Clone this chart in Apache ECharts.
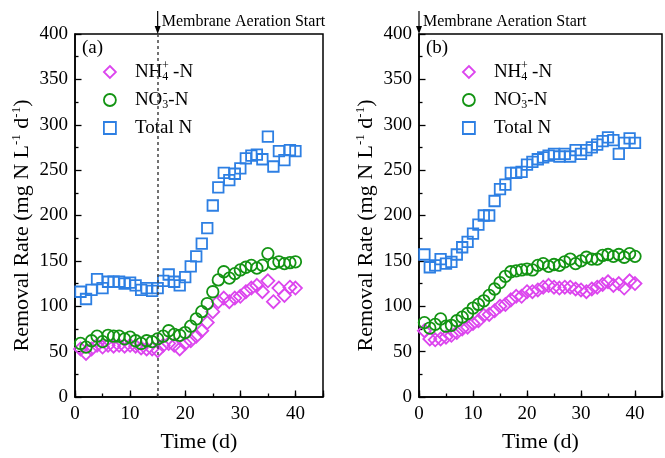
<!DOCTYPE html>
<html><head><meta charset="utf-8">
<script src="https://cdn.jsdelivr.net/npm/echarts@6/dist/echarts.min.js"></script>
<style>html,body{margin:0;padding:0;background:#fff}#c{width:665px;height:458px}</style>
</head><body><div id="c"></div>
<script>
// ---- data ----
const days = [1,2,3,4,5,6,7,8,9,10,11,12,13,14,15,16,17,18,19,20,21,22,23,24,25,26,27,28,29,30,31,32,33,34,35,36,37,38,39,40];
const nh4A = [53,48,53,57,55,57,56,57,56,57,56,54,53,53,51,57,59,57,53,59,62,67,73,82,94,105,109,105,109,111,116,120,123,116,128,105,120,112,121,120];
const no3A = [59,55,62,67,61,68,67,67,64,66,62,59,62,61,64,67,73,69,68,71,78,86,94,103,116,129,138,131,136,140,143,145,142,145,158,147,149,147,148,149];
const tnA  = [116,108,118,130,120,127,127,127,125,126,123,118,120,117,120,128,135,127,123,132,144,155,169,186,211,231,247,239,246,252,263,266,267,262,287,254,271,261,272,271];
const nh4B = [73,64,63,64,66,68,71,75,77,81,84,90,91,95,100,102,107,111,111,116,116,118,121,123,121,120,121,121,119,118,116,119,121,124,127,123,125,120,128,125];
const no3B = [82,76,80,86,78,79,84,88,92,98,102,106,112,119,126,133,138,139,140,141,140,145,147,144,146,145,149,152,147,150,154,152,152,156,157,155,157,154,158,155];
const tnB  = [157,143,145,152,147,149,157,165,171,180,190,200,200,216,229,234,247,247,248,256,259,262,264,266,268,265,268,265,272,268,272,275,278,282,286,283,268,280,285,280];
const xTicks = [0,10,20,30,40];
const aerationDayA = 15, aerationDayB = 0;
const panelLabels = ['(a)','(b)'];
const annotText = 'Membrane Aeration Start';

const FONT = '"Liberation Serif", "Times New Roman", serif';
const MAG = '#dc45ee', GRN = '#139413', BLU = '#2d7fe3';

function pts(ys){ return days.map((d,i)=>[d, ys[i]]); }

const grids = [
  {left:75, top:34, width:248, height:370},
  {left:419, top:34, width:247, height:370}
];
function xMain(g){ return {
  type:'value', gridIndex:g, min:0, max:45, interval:5, position:'bottom',
  axisLine:{show:true, lineStyle:{color:'#000', width:1.5}},
  axisTick:{show:true, inside:true, length:3.5, lineStyle:{color:'#000', width:1.3}},
  axisLabel:{fontFamily:FONT, fontSize:19, color:'#000', margin:8,
    formatter:v => xTicks.indexOf(v) >= 0 ? String(v) : ''},
  splitLine:{show:false},
  name:'Time (d)', nameLocation:'middle', nameGap:34,
  nameTextStyle:{fontFamily:FONT, fontSize:22, color:'#000'}
};}
function xMajor(g){ return {
  type:'value', gridIndex:g, min:0, max:45, interval:10, position:'bottom',
  axisLine:{show:false}, axisLabel:{show:false}, splitLine:{show:false},
  axisTick:{show:true, inside:true, length:6.5, lineStyle:{color:'#000', width:1.3}}
};}
function yAx(g){ return {
  type:'value', gridIndex:g, min:0, max:400, interval:50,
  axisLine:{show:true, lineStyle:{color:'#000', width:1.5}},
  axisTick:{show:true, inside:true, length:6.5, lineStyle:{color:'#000', width:1.3}},
  minorTick:{show:true, splitNumber:2, length:3.5, lineStyle:{color:'#000', width:1.3}},
  axisLabel:{fontFamily:FONT, fontSize:19, color:'#000', margin:7},
  splitLine:{show:false}, minorSplitLine:{show:false},
  name:'Removal Rate (mg N L{sp|-1} d{sp|-1})', nameLocation:'middle', nameGap:37,
  nameTextStyle:{fontFamily:FONT, fontSize:22, color:'#000', lineHeight:26, padding:[0,20,0,0],
    rich:{sp:{fontFamily:FONT, fontSize:13, lineHeight:13, verticalAlign:'top', color:'#000'}}}
};}

function sc(name, data, xi, yi, sym, size, col, extra){
  return Object.assign({
    type:'scatter', name:name, xAxisIndex:xi, yAxisIndex:yi, data:data,
    symbol:sym, symbolSize:size,
    itemStyle:{color:'rgba(0,0,0,0)', borderColor:col, borderWidth:1.8, opacity:1},
    emphasis:{disabled:true}, animation:false
  }, extra||{});
}
const legendData = [
  {name:'NH4', icon:'diamond', itemStyle:{color:'rgba(0,0,0,0)', borderColor:MAG, borderWidth:1.8}},
  {name:'NO3', icon:'circle', itemStyle:{color:'rgba(0,0,0,0)', borderColor:GRN, borderWidth:1.8}},
  {name:'TN', icon:'rect', itemStyle:{color:'rgba(0,0,0,0)', borderColor:BLU, borderWidth:1.8}}
];
function legendFor(left){ return {
  data:legendData, orient:'vertical', left:left, top:61, padding:0,
  itemWidth:12, itemHeight:12, itemGap:6, selectedMode:false,
  formatter:function(n){ return n==='NH4' ? 'NH{sb|4} -N' : n==='NO3' ? 'NO{sb|3}-N' : 'Total N'; },
  textStyle:{fontFamily:FONT, fontSize:19, color:'#000', lineHeight:22, padding:[0,0,0,14],
    rich:{sb:{fontFamily:FONT, fontSize:12, lineHeight:14, verticalAlign:'bottom', color:'#000'}}}
};}

const option = {
  backgroundColor:'#fff', animation:false,
  grid: grids.map(g => Object.assign({show:true, borderColor:'#000', borderWidth:1.5, backgroundColor:'rgba(0,0,0,0)'}, g)),
  xAxis:[xMain(0), xMajor(0), xMain(1), xMajor(1)],
  yAxis:[yAx(0), yAx(1)],
  legend:[legendFor(103), legendFor(462)],
  series:[
    sc('NH4', pts(nh4A), 0, 0, 'diamond', 13, MAG, {
      markLine:{silent:true, symbol:'none', animation:false,
        lineStyle:{type:[3,3], color:'#444', width:1.5}, label:{show:false},
        data:[{xAxis:aerationDayA}]}}),
    sc('NO3', pts(no3A), 0, 0, 'circle', 11.5, GRN),
    sc('TN', pts(tnA), 0, 0, 'rect', 10.5, BLU),
    sc('NH4', pts(nh4B), 2, 1, 'diamond', 13, MAG),
    sc('NO3', pts(no3B), 2, 1, 'circle', 11.5, GRN),
    sc('TN', pts(tnB), 2, 1, 'rect', 10.5, BLU)
  ]
};
const chart = echarts.init(document.getElementById('c'), null, {renderer:'canvas'});
chart.setOption(option);

// annotations positioned through the chart's own coordinate conversion
const mctx = document.createElement('canvas').getContext('2d');
mctx.font = '19px "Liberation Serif"';
const wNH = mctx.measureText('NH').width, wNO = mctx.measureText('NO').width;
const graphics = [];
[[0, aerationDayA, 134], [3, aerationDayB, 493]].forEach(function(p, k){
  const top = chart.convertToPixel({seriesIndex:p[0]}, [p[1], 400]);
  const x = top[0], y = top[1];
  graphics.push({type:'line', shape:{x1:x, y1:11, x2:x, y2:y-7}, style:{stroke:'#000', lineWidth:1.2}, z:10});
  graphics.push({type:'polygon', shape:{points:[[x-3,y-8],[x+3,y-8],[x,y]]}, style:{fill:'#000'}, z:10});
  graphics.push({type:'text', x:x+4, y:22, style:{text:annotText, font:'16px "Liberation Serif"', fill:'#000', textVerticalAlign:'middle'}, z:10});
  const ll = chart.convertToPixel({seriesIndex:p[0]}, [0, 400]);
  graphics.push({type:'text', x:ll[0]+7, y:48, style:{text:panelLabels[k], font:'19px "Liberation Serif"', fill:'#000', textVerticalAlign:'middle'}, z:10});
  const tx = p[2];
  graphics.push({type:'text', x:tx+wNH+0.5, y:66, style:{text:'+', font:'12px "Liberation Serif"', fill:'#000', textVerticalAlign:'middle'}, z:10});
  graphics.push({type:'text', x:tx+wNO+1.5, y:94, style:{text:'-', font:'13px "Liberation Serif"', fill:'#000', textVerticalAlign:'middle'}, z:10});
});
chart.setOption({graphic:graphics});
</script></body></html>
